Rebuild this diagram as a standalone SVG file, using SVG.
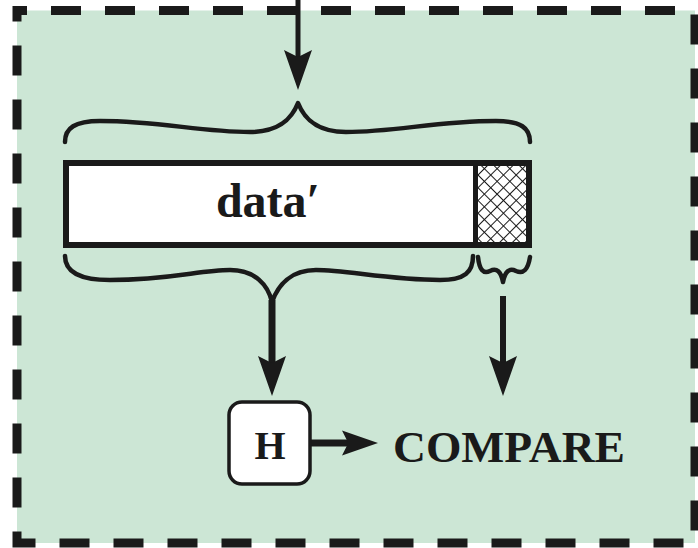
<svg xmlns="http://www.w3.org/2000/svg" width="698" height="548" viewBox="0 0 698 548">
<defs>
<style>
.brace{fill:none;stroke:#1a1a1a;stroke-width:4.5;stroke-linecap:round;stroke-linejoin:round}
.line{stroke:#1a1a1a;fill:none}
.head{fill:#1a1a1a}
.lbl{font-family:"Liberation Serif","DejaVu Serif",serif;font-weight:bold;fill:#1a1a1a}
</style>
<pattern id="hatch" patternUnits="userSpaceOnUse" width="9" height="9" patternTransform="rotate(45 478 163)">
<rect width="9" height="9" fill="#fff"/>
<path d="M0,0H9M0,0V9" stroke="#1a1a1a" stroke-width="2"/>
</pattern>
<path id="ah" d="M0,0 L-14,-40 L0,-33 L14,-40 Z"/>
</defs>
<rect x="0" y="0" width="698" height="548" fill="#ffffff"/>
<rect x="17" y="10.5" width="678" height="532.5" fill="#cce6d5" stroke="#1a1a1a" stroke-width="9" stroke-dasharray="30 24" stroke-dashoffset="20"/>
<g id="connectors">
<line class="line" x1="298" y1="0" x2="298" y2="60" stroke-width="5"/>
<use href="#ah" class="head" transform="translate(298,90)"/>
<line class="line" x1="272" y1="300" x2="272" y2="365" stroke-width="7"/>
<use href="#ah" class="head" transform="translate(272,396)"/>
<line class="line" x1="503" y1="296" x2="503" y2="365" stroke-width="6"/>
<use href="#ah" class="head" transform="translate(503,396)"/>
<line class="line" x1="310" y1="443" x2="352" y2="443" stroke-width="7"/>
<use href="#ah" class="head" transform="translate(378,443) rotate(-90) scale(0.9)"/>
</g>
<g id="brace-top">
<path class="brace" d="M65,142 C65,128 75,121 100,121 C160,121 200,132 250,132 C280,132 292,118 298,103 C304,118 316,132 346,132 C396,132 436,121 496,121 C521,121 530,128 530,142"/>
</g>
<g id="data-block">
<rect x="66" y="163" width="463" height="82" fill="#ffffff" stroke="#1a1a1a" stroke-width="6"/>
<rect x="478" y="166" width="48" height="76" fill="url(#hatch)"/>
<line x1="475.5" y1="163" x2="475.5" y2="245" stroke="#1a1a1a" stroke-width="5"/>
<text class="lbl" x="268" y="217" font-size="48" text-anchor="middle">data′</text>
</g>
<g id="brace-bottom">
<path class="brace" d="M65,256 C65,272 80,280 110,280 C170,280 200,270 230,270 C255,270 268,285 272,302 C278,285 291,270 316,270 C346,270 390,280 440,280 C465,280 473,272 473,256"/>
<path class="brace" d="M478,257 Q480,276 490,271 Q500,266 503,282 Q506,266 516,271 Q527,276 530,257" stroke-width="3"/>
</g>
<g id="node-h">
<rect x="229" y="402" width="81" height="82" rx="13" fill="#ffffff" stroke="#1a1a1a" stroke-width="3.5"/>
<text class="lbl" x="270" y="459" font-size="40" text-anchor="middle">H</text>
</g>
<g id="compare">
<text class="lbl" x="393" y="462" font-size="45" textLength="232" lengthAdjust="spacingAndGlyphs">COMPARE</text>
</g>
</svg>
